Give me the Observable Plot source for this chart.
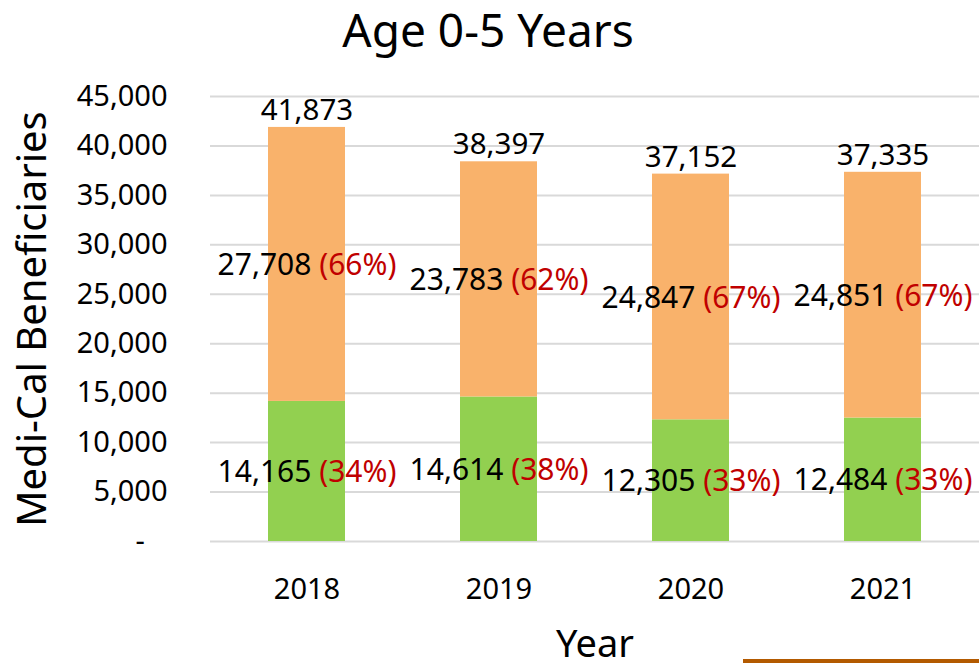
<!DOCTYPE html>
<html>
<head>
<meta charset="utf-8">
<script src="https://cdn.jsdelivr.net/npm/d3@7"></script>
<script src="https://cdn.jsdelivr.net/npm/@observablehq/plot@0.6"></script>
<style>
  html, body { margin: 0; padding: 0; background: #fff; }
  #wrap { position: relative; width: 979px; height: 663px; overflow: hidden; }
  #wrap svg { display: block; overflow: visible; }
  #deco { position: absolute; left: 743px; top: 659px; width: 236px; height: 4px; background: #B35A00; }
</style>
</head>
<body>
<div id="wrap"><div id="deco"></div></div>
<script>
const years = ["2018", "2019", "2020", "2021"];
const lowerValues = [14165, 14614, 12305, 12484];
const upperValues = [27708, 23783, 24847, 24851];
const lowerPct = [34, 38, 33, 33];
const upperPct = [66, 62, 67, 67];
const totals = [41873, 38397, 37152, 37335];
const seriesNames = ["Lower", "Upper"];
const seriesColors = ["#92D050", "#F9B26B"];
const yTicks = [0, 5000, 10000, 15000, 20000, 25000, 30000, 35000, 40000, 45000];

const fmt = d3.format(",");
const long = [];
years.forEach((y, i) => {
  long.push({year: y, series: seriesNames[0], value: lowerValues[i], pct: lowerPct[i]});
  long.push({year: y, series: seriesNames[1], value: upperValues[i], pct: upperPct[i]});
});
const totalRows = years.map((y, i) => ({year: y, total: totals[i]}));

const chart = Plot.plot({
  width: 979,
  height: 663,
  marginTop: 96,
  marginBottom: 122,
  marginLeft: 210,
  marginRight: 0,
  style: {fontFamily: "'Noto Sans', sans-serif", fontSize: "29px", color: "#000", background: "transparent"},
  x: {domain: years, paddingInner: 0.6, paddingOuter: 0.3, label: null},
  y: {domain: [0, 45000], label: null},
  color: {domain: seriesNames, range: seriesColors},
  marks: [
    Plot.ruleY(yTicks, {stroke: "#D9D9D9", strokeWidth: 2}),
    Plot.barY(long, {x: "year", y: "value", z: "series", fill: "series"}),
    Plot.axisY({ticks: yTicks, tickSize: 0, tickPadding: 43, label: null,
      tickFormat: d => d === 0 ? "-\u00a0\u00a0\u00a0" : fmt(d), fontSize: 29}),
    Plot.axisX({tickSize: 0, tickPadding: 37, label: null, fontSize: 29}),
    Plot.text(long, Plot.stackY({x: "year", y: "value", z: "series",
      text: d => `${fmt(d.value)} (${d.pct}%)`, fill: "#000", fontSize: 30, dy: 1})),
    Plot.text(totalRows, {x: "year", y: "total", text: d => fmt(d.total), fill: "#000", fontSize: 29.5, dy: -17}),
    Plot.text(["Age 0-5 Years"], {frameAnchor: "top", dx: -107, dy: -82, fontSize: 46, fill: "#000"}),
    Plot.text(["Medi-Cal Beneficiaries"], {frameAnchor: "left", textAnchor: "middle", rotate: -90, dx: -177, fontSize: 40, fill: "#000"}),
    Plot.text(["Year"], {frameAnchor: "bottom", dy: 115, fontSize: 38, fill: "#000"})
  ]
});

// colour the percentage part of the segment labels red
chart.querySelectorAll("text").forEach(t => {
  const m = /^([\d,]+) (\(\d+%\))$/.exec(t.textContent);
  if (!m || t.children.length > 0) return;
  t.textContent = "";
  const ns = "http://www.w3.org/2000/svg";
  const a = document.createElementNS(ns, "tspan");
  a.textContent = m[1] + "\u00a0";
  a.setAttribute("fill", "#000");
  const b = document.createElementNS(ns, "tspan");
  b.textContent = m[2];
  b.setAttribute("fill", "#C00000");
  t.appendChild(a);
  t.appendChild(b);
});

document.getElementById("wrap").prepend(chart);
</script>
</body>
</html>
